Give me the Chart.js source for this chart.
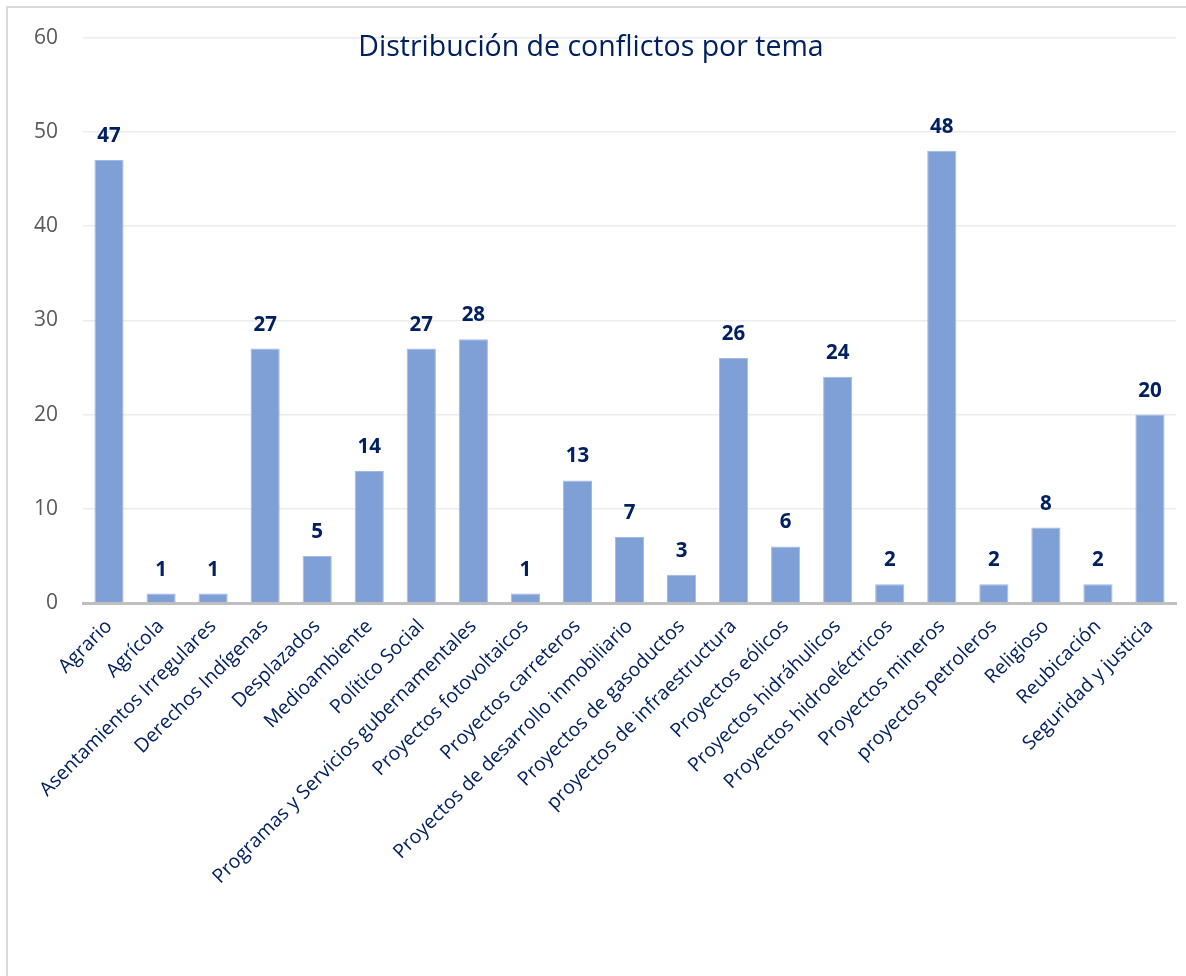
<!DOCTYPE html>
<html>
<head>
<meta charset="utf-8">
<script src="https://cdn.jsdelivr.net/npm/chart.js@4.4.0/dist/chart.umd.min.js"></script>
<style>
  html, body { margin: 0; padding: 0; background: #ffffff; overflow: hidden; }
  #wrap { position: relative; width: 1186px; height: 976px; }
  canvas { display: block; }
</style>
</head>
<body>
<div id="wrap"><canvas id="c" width="1186" height="976"></canvas></div>
<script>
const chartTitle = "Distribución de conflictos por tema";
const categories = [
  "Agrario", "Agrícola", "Asentamientos Irregulares", "Derechos Indígenas",
  "Desplazados", "Medioambiente", "Político Social",
  "Programas y Servicios gubernamentales", "Proyectos fotovoltaicos",
  "Proyectos carreteros", "Proyectos de desarrollo inmobiliario",
  "Proyectos de gasoductos", "proyectos de infraestructura", "Proyectos eólicos",
  "Proyectos hidráhulicos", "Proyectos hidroeléctricos", "Proyectos mineros",
  "proyectos petroleros", "Religioso", "Reubicación", "Seguridad y justicia"
];
const conflictCounts = [47, 1, 1, 27, 5, 14, 27, 28, 1, 13, 7, 3, 26, 6, 24, 2, 48, 2, 8, 2, 20];
const yTicks = [0, 10, 20, 30, 40, 50, 60];

const NAVY = "#002060";

const framePlugin = {
  id: "frame",
  beforeDraw(chart) {
    const ctx = chart.ctx;
    ctx.save();
    ctx.fillStyle = "#ffffff";
    ctx.fillRect(0, 0, chart.width, chart.height);
    ctx.strokeStyle = "#d9d9d9";
    ctx.lineWidth = 2;
    ctx.strokeRect(7, 7, 1400, 1400);
    ctx.restore();
  }
};

const overlayTitle = {
  id: "overlayTitle",
  afterDraw(chart) {
    const ctx = chart.ctx;
    ctx.save();
    ctx.font = "28.5px 'Open Sans'";
    ctx.fillStyle = NAVY;
    ctx.textAlign = "center";
    ctx.textBaseline = "alphabetic";
    ctx.fillText(chartTitle, 591, 56);
    ctx.restore();
  }
};

const valueLabels = {
  id: "valueLabels",
  afterDatasetsDraw(chart) {
    const ctx = chart.ctx;
    const meta = chart.getDatasetMeta(0);
    const data = chart.data.datasets[0].data;
    ctx.save();
    ctx.font = "bold 20.5px 'Open Sans'";
    ctx.fillStyle = NAVY;
    ctx.textAlign = "center";
    ctx.textBaseline = "alphabetic";
    meta.data.forEach((bar, i) => {
      ctx.fillText(String(data[i]), bar.x, bar.y - 18);
    });
    ctx.restore();
  }
};

new Chart(document.getElementById("c"), {
  type: "bar",
  data: {
    labels: categories,
    datasets: [{
      data: conflictCounts,
      backgroundColor: "#7f9fd7",
      borderColor: "#a3b9e4",
      borderWidth: 1,
      barPercentage: 0.56,
      categoryPercentage: 1.0
    }]
  },
  options: {
    responsive: false,
    animation: false,
    devicePixelRatio: 1,
    layout: { padding: { top: 34, left: 0, right: 10, bottom: 0 } },
    plugins: {
      legend: { display: false },
      title: { display: false },
      tooltip: { enabled: false }
    },
    scales: {
      x: {
        grid: { display: false, drawTicks: false },
        border: { display: true, color: "#bfbfbf", width: 3 },
        ticks: {
          color: NAVY,
          font: { family: "'Open Sans'", size: 19.5 },
          minRotation: 45,
          maxRotation: 45,
          autoSkip: false,
          padding: 12
        },
        afterFit(scale) { scale.height = 373; }
      },
      y: {
        min: 0,
        max: 60,
        afterBuildTicks(scale) { scale.ticks = yTicks.map(v => ({ value: v })); },
        grid: { color: "#ececec", lineWidth: 1.5, drawTicks: false },
        border: { display: false },
        ticks: {
          color: "#595959",
          font: { family: "'Open Sans'", size: 21 },
          padding: 25
        },
        afterFit(scale) { scale.width = 83; }
      }
    }
  },
  plugins: [framePlugin, valueLabels, overlayTitle]
});
</script>
</body>
</html>
